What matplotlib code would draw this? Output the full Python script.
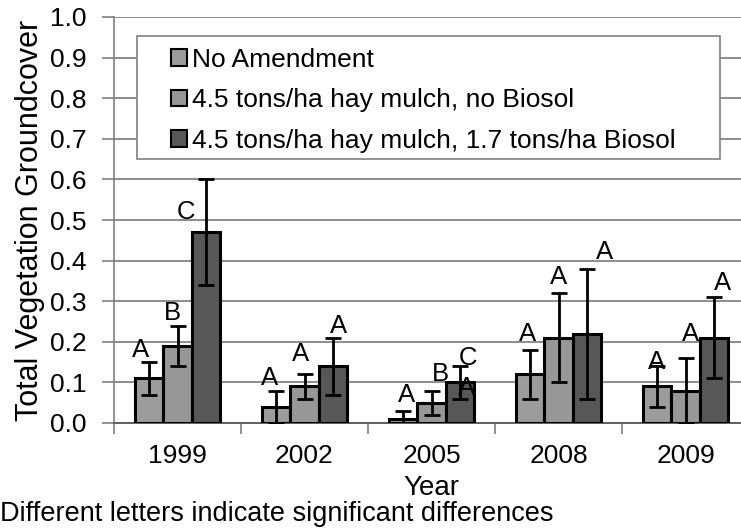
import matplotlib
matplotlib.use('Agg')
import matplotlib.pyplot as plt
from matplotlib.patches import Rectangle
import numpy as np

years = ['1999', '2002', '2005', '2008', '2009']
series_names = ['No Amendment',
                '4.5 tons/ha hay mulch, no Biosol',
                '4.5 tons/ha hay mulch, 1.7 tons/ha Biosol']

# mean groundcover per treatment
no_amend = [0.11, 0.04, 0.01, 0.12, 0.09]
hay_only = [0.19, 0.09, 0.05, 0.21, 0.08]
hay_biosol = [0.47, 0.14, 0.10, 0.22, 0.21]

# error bar half-widths
err_no_amend = [0.04, 0.04, 0.02, 0.06, 0.05]
err_hay_only = [0.05, 0.03, 0.03, 0.11, 0.08]
err_hay_biosol = [0.13, 0.07, 0.04, 0.16, 0.10]

# significance letters and the height they sit at
letters_no_amend = ['A', 'A', 'A', 'A', 'A']
letters_hay_only = ['B', 'A', 'B', 'A', 'A']
letters_hay_biosol = ['C', 'A', 'C', 'A', 'A']
ly_no_amend = [0.18, 0.11, 0.07, 0.22, 0.15]
ly_hay_only = [0.27, 0.17, 0.12, 0.36, 0.22]
ly_hay_biosol = [0.52, 0.24, 0.16, 0.42, 0.345]
lx_no_amend = [-0.07, -0.05, 0.03, -0.02, 0.0]
lx_hay_only = [-0.04, -0.035, 0.07, 0.0, 0.04]
lx_hay_biosol = [-0.16, 0.04, 0.06, 0.14, 0.07]

colors = ['#9c9c9c', '#979797', '#575757']
plt.rcParams['font.family'] = ['Liberation Sans', 'DejaVu Sans']

fig = plt.figure(figsize=(7.41, 5.31), dpi=100)
ax = fig.add_axes([114 / 741, 1 - 423 / 531, 635 / 741, 406 / 531])

x = np.arange(len(years))
w = 0.225
means = [no_amend, hay_only, hay_biosol]
errs = [err_no_amend, err_hay_only, err_hay_biosol]
letters = [letters_no_amend, letters_hay_only, letters_hay_biosol]
lys = [ly_no_amend, ly_hay_only, ly_hay_biosol]
lxs = [lx_no_amend, lx_hay_only, lx_hay_biosol]

for i in range(3):
    pos = x + (i - 1) * w
    ax.bar(pos, means[i], w, color=colors[i], edgecolor='black', linewidth=2.2,
           label=series_names[i], zorder=3)
    ax.errorbar(pos, means[i], yerr=errs[i], fmt='none', ecolor='black',
                elinewidth=2.0, capsize=5.5, capthick=2.0, zorder=4)
    for j in range(len(years)):
        ax.text(pos[j] + lxs[i][j], lys[i][j], letters[i][j], ha='center',
                va='center', fontsize=18.5, zorder=5)

# extra letter drawn inside the 2005 Biosol bar
ax.text(2 + w + 0.05, 0.086, 'A', ha='center', va='center', fontsize=18.5, zorder=5)

ax.set_xlim(-0.5, 4.5)
ax.set_ylim(0, 1.0)
ax.set_yticks(np.arange(0, 1.01, 0.1))
ax.set_yticklabels(['%.1f' % v for v in np.arange(0, 1.01, 0.1)])
ax.set_xticks(np.arange(-0.5, 5, 1))
ax.set_xticklabels([])
ax.set_xticks(x, minor=True)
ax.set_xticklabels(years, minor=True)
ax.tick_params(axis='x', which='major', length=8, width=1.2, color='#808080')
ax.tick_params(axis='x', which='minor', length=0, pad=15, labelsize=19)
ax.tick_params(axis='y', length=9, width=1.2, color='#808080', pad=11, labelsize=19)

ax.grid(axis='y', color='#858585', linewidth=1.3, zorder=0)
ax.set_axisbelow(True)
for s in ['top', 'right']:
    ax.spines[s].set_visible(False)
ax.spines['left'].set_color('#808080')
ax.spines['bottom'].set_color('#606060')
ax.spines['left'].set_linewidth(1.2)
ax.spines['bottom'].set_linewidth(1.4)

ax.set_ylabel('Total Vegetation Groundcover', fontsize=22, labelpad=3)
ax.set_xlabel('Year', fontsize=20, labelpad=5)

# legend frame drawn separately so the entries can sit well inside it
ax.add_patch(Rectangle((137 / 741, 1 - 159 / 531), 583 / 741, 123 / 531,
                       transform=fig.transFigure, facecolor='white',
                       edgecolor='#808080', linewidth=1.2, zorder=6, clip_on=False))
leg = ax.legend(loc='upper left', bbox_to_anchor=(171 / 741, 1 - 48 / 531),
                bbox_transform=fig.transFigure, fontsize=19, frameon=False,
                handlelength=0.6, handleheight=0.6, handletextpad=0.2,
                labelspacing=0.62, borderpad=0, borderaxespad=0)
leg.set_zorder(7)
for h in leg.legend_handles:
    h.set_linewidth(1.5)

fig.text(0.0, 1 - 514 / 531, 'Different letters indicate significant differences',
         fontsize=19.5, ha='left', va='center')

fig.savefig('out.png', dpi=100)
